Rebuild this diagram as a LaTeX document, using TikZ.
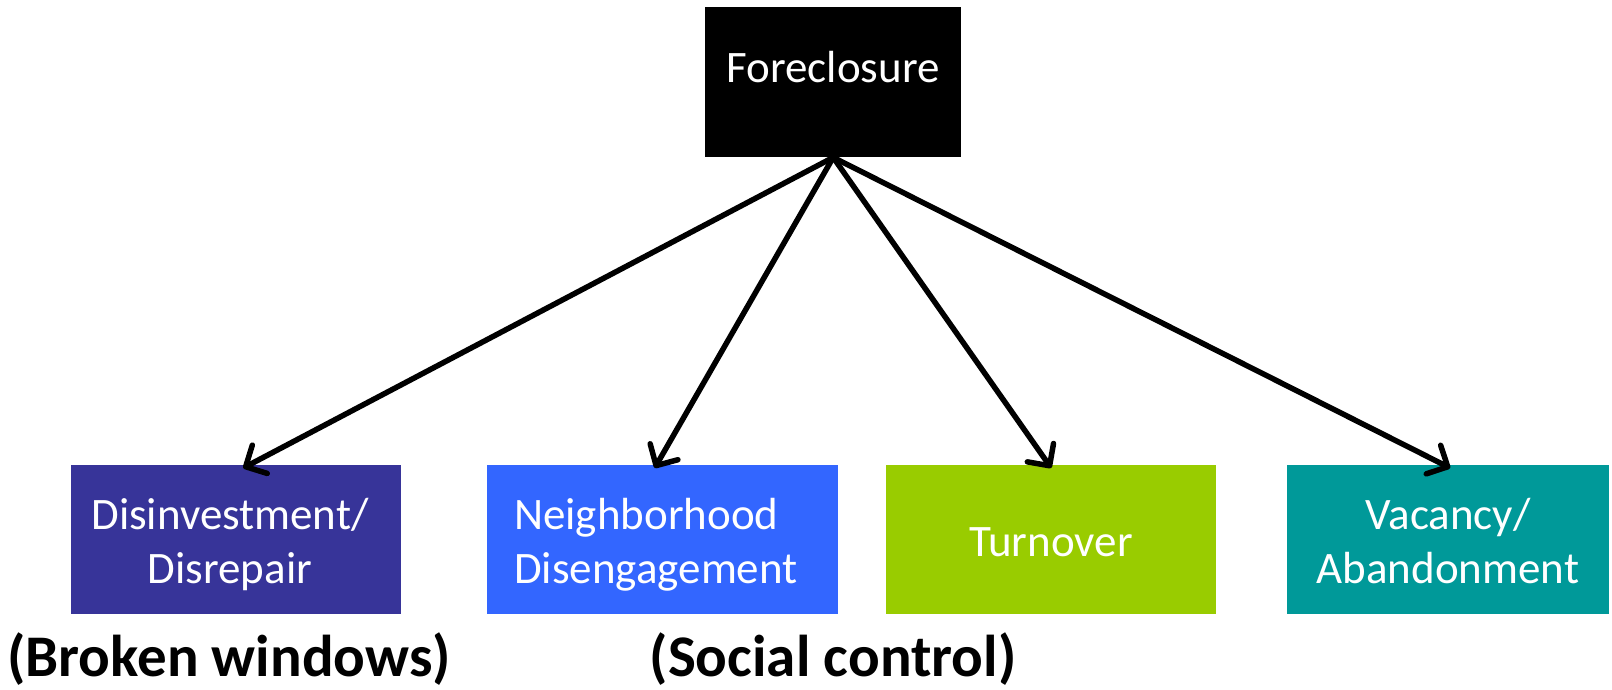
\documentclass[tikz,border=0pt]{standalone}
\usepackage{fontspec}
\setmainfont{Carlito}
\usetikzlibrary{arrows.meta}
\definecolor{cdblue}{HTML}{373499}
\definecolor{cblue}{HTML}{3366FF}
\definecolor{cgreen}{HTML}{99CC00}
\definecolor{cteal}{HTML}{009999}
\tikzset{
  boxshape/.style={rectangle, inner sep=0pt, minimum width=#1, minimum height=149pt, anchor=north west},
  boxtext/.style={text=white, font=\fontsize{45pt}{54pt}\selectfont, inner sep=0pt},
  lowtext/.style={text=black, font=\fontsize{59pt}{62pt}\selectfont\bfseries, inner sep=0pt, anchor=base},
  arr/.style={line width=5.5pt, line cap=round, -{Straight Barb[length=16pt,width=32pt,line cap=round,line join=round]}}
}
\begin{document}
\begin{tikzpicture}[x=1pt,y=-1pt]
\useasboundingbox (0,0) rectangle (1612,689);
\node[boxshape=256pt, minimum height=150pt, fill=black] (f) at (705,7) {};
\node[boxtext, anchor=base] (ft) at (833,82) {Foreclosure};

\node[boxshape=330pt, fill=cdblue] (b1) at (71,465) {};
\node[boxshape=351pt, fill=cblue] (b2) at (487,465) {};
\node[boxshape=330pt, fill=cgreen] (b3) at (886,465) {};
\node[boxshape=322pt, fill=cteal] (b4) at (1287,465) {};

\node[boxtext, align=center, anchor=base] (t1) at (230,583) {Disinvestment/\\Disrepair};
\node[boxtext, align=left, anchor=base west] (t2) at (514,583) {Neighborhood\\Disengagement};
\node[boxtext, anchor=base] (t3) at (1051,556) {Turnover};
\node[boxtext, align=center, anchor=base] (t4) at (1448,583) {Vacancy/\\Abandonment};

\node[lowtext] (l1) at (229,676) {(Broken windows)};
\node[lowtext] (l2) at (833,676) {(Social control)};

\coordinate (e1) at ([xshift=7pt,yshift=-3pt]b1.north);
\coordinate (e2) at ([xshift=-8pt,yshift=-3pt]b2.north);
\coordinate (e3) at ([yshift=-3pt]b3.north);
\coordinate (e4) at ([xshift=2pt,yshift=-3pt]b4.north);
\draw[arr] (f.south) -- (e1);
\draw[arr] (f.south) -- (e2);
\draw[arr] (f.south) -- (e3);
\draw[arr] (f.south) -- (e4);
\end{tikzpicture}
\end{document}
